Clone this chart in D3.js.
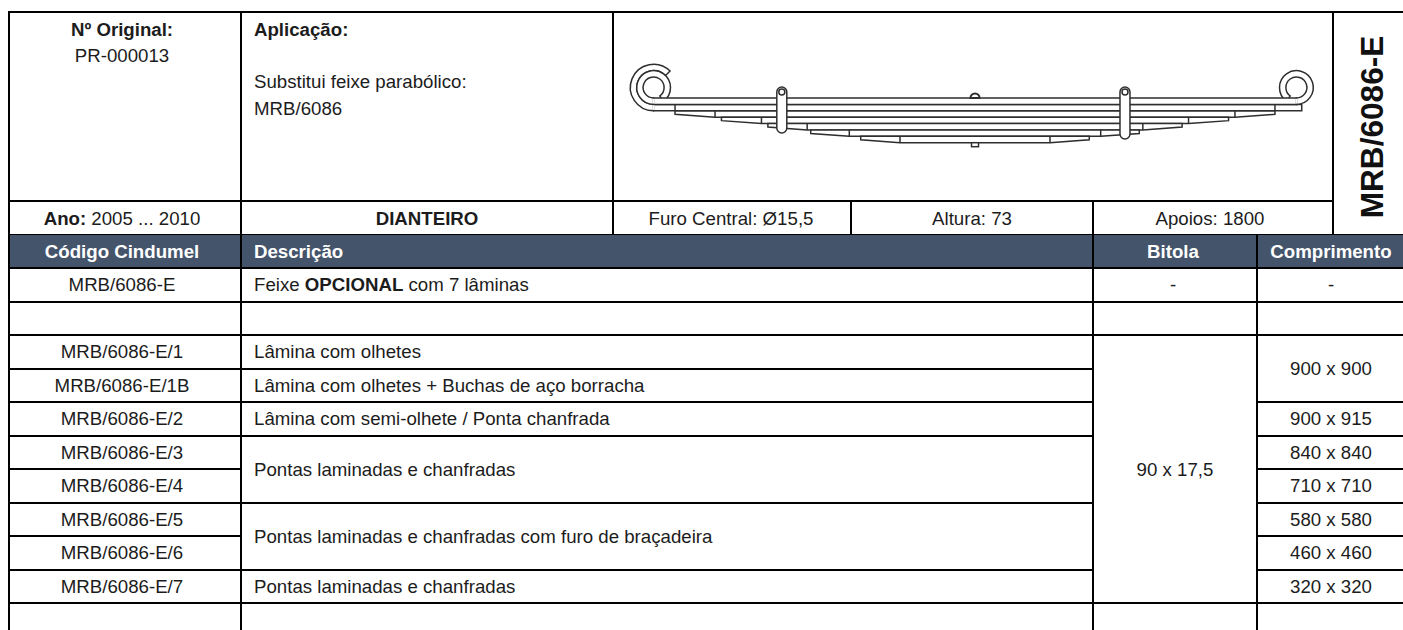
<!DOCTYPE html>
<html>
<head>
<meta charset="utf-8">
<title>MRB/6086-E</title>
<script src="https://cdn.jsdelivr.net/npm/d3@7"></script>
<style>
    html, body { margin: 0; padding: 0; background: #fff; overflow: hidden; }
    text { font-family: "Liberation Sans", Arial, sans-serif; font-size: 18.67px; fill: #1c1c1c; }
    .b { font-weight: bold; }
    .rule { stroke: #000; stroke-width: 2; shape-rendering: crispEdges; }
    .leaf { fill: #fff; stroke: #2e2e2e; stroke-width: 1.5; }
</style>
</head>
<body>
<script>
// Table content
var headers = ["Código Cindumel", "Descrição", "Bitola", "Comprimento"];
var codes = ["MRB/6086-E", "", "MRB/6086-E/1", "MRB/6086-E/1B", "MRB/6086-E/2", "MRB/6086-E/3",
    "MRB/6086-E/4", "MRB/6086-E/5", "MRB/6086-E/6", "MRB/6086-E/7", ""];
// first row of each merged block, how many rows it spans, its text
var descRows = [0, 1, 2, 3, 4, 5, 7, 9, 10];
var descSpans = [1, 1, 1, 1, 1, 2, 2, 1, 1];
var descTexts = ["Feixe |OPCIONAL| com 7 lâminas", "", "Lâmina com olhetes", "Lâmina com olhetes + Buchas de aço borracha",
    "Lâmina com semi-olhete / Ponta chanfrada", "Pontas laminadas e chanfradas",
    "Pontas laminadas e chanfradas com furo de braçadeira", "Pontas laminadas e chanfradas", ""];
var gaugeRows = [0, 1, 2, 10];
var gaugeSpans = [1, 1, 8, 1];
var gaugeTexts = ["-", "", "90 x 17,5", ""];
var lengthRows = [0, 1, 2, 4, 5, 6, 7, 8, 9, 10];
var lengthSpans = [1, 1, 2, 1, 1, 1, 1, 1, 1, 1];
var lengthTexts = ["-", "", "900 x 900", "900 x 915", "840 x 840", "710 x 710", "580 x 580", "460 x 460", "320 x 320", ""];

// Spring drawing values, in mm from the centre bolt
var eyeMm = 900;
var secondLeafRightMm = 915;
var tipMm = [840, 710, 580, 460, 320];
var chamferMm = [728, 598, 470, 352, 210];
var clipMm = [-541, 420];

var width = 1403,
    height = 630;

var svg = d3.select("body")
    .append("svg")
    .attr("width", width)
    .attr("height", height)
    .style("display", "block");

// Column and row edges
var colX = { left: 9, desc: 241, gauge: 1093, len: 1257, right: 1403 };
var topY = 12, infoY = 201, headY = 234, bodyY = 268;
var rowY = d3.scaleLinear().domain([0, 10]).range([bodyY, 603]);

svg.append("rect")
    .attr("x", colX.left).attr("y", headY)
    .attr("width", width - colX.left).attr("height", bodyY - headY)
    .attr("fill", "#44546a");

function hLine(x1, x2, y) {
    return svg.append("line").attr("class", "rule")
        .attr("x1", x1).attr("x2", x2).attr("y1", y).attr("y2", y);
}
function vLine(x, y1, y2) {
    return svg.append("line").attr("class", "rule")
        .attr("x1", x).attr("x2", x).attr("y1", y1).attr("y2", y2);
}

// Top block
hLine(colX.left - 1, width, topY);
hLine(colX.left, 1333, infoY);
hLine(colX.left, width, bodyY);
vLine(613, topY, headY);
vLine(851, infoY, headY);
vLine(1333, topY, headY);

// Columns
vLine(colX.left, topY, height);
vLine(colX.desc, topY, height);
vLine(colX.gauge, infoY, height);
vLine(colX.len, headY, height);
hLine(colX.left, width, headY).style("stroke-width", 1);

// Row rules, respecting the merged cells
d3.range(1, 11).forEach(function(i) {
    hLine(colX.left, colX.desc, rowY(i));
});
function blockRules(rows, spans, x1, x2) {
    rows.forEach(function(r, i) {
        hLine(x1, x2, rowY(r + spans[i]));
    });
}
blockRules(descRows.slice(0, -1), descSpans.slice(0, -1), colX.desc, colX.gauge);
blockRules(gaugeRows.slice(0, -1), gaugeSpans.slice(0, -1), colX.gauge, colX.len);
blockRules(lengthRows.slice(0, -1), lengthSpans.slice(0, -1), colX.len, colX.right);

function label(x, y, anchor, parts, cls) {
    var t = svg.append("text").attr("x", x).attr("y", y).attr("text-anchor", anchor);
    if (cls) t.attr("class", cls);
    parts.forEach(function(p) {
        t.append("tspan").attr("class", p.b ? "b" : null).text(p.t);
    });
    return t;
}

// Info cells
label(122, 36, "middle", [{ t: "Nº Original:", b: true }]);
label(122, 62, "middle", [{ t: "PR-000013" }]);
label(254, 36, "start", [{ t: "Aplicação:", b: true }]);
label(254, 88, "start", [{ t: "Substitui feixe parabólico:" }]);
label(254, 115, "start", [{ t: "MRB/6086" }]);
label(122, 225, "middle", [{ t: "Ano:", b: true }, { t: " 2005 ... 2010" }]);
label(427, 225, "middle", [{ t: "DIANTEIRO", b: true }]);
label(731, 225, "middle", [{ t: "Furo Central: Ø15,5" }]);
label(972, 225, "middle", [{ t: "Altura: 73" }]);
label(1210, 225, "middle", [{ t: "Apoios: 1800" }]);

svg.append("text")
    .attr("class", "b")
    .attr("transform", "translate(1383,127) rotate(-90)")
    .attr("text-anchor", "middle")
    .style("font-size", "31.6px")
    .style("fill", "#111")
    .text("MRB/6086-E");

// Header row
var headerX = [122, 254, 1173, 1331];
var headerAnchor = ["middle", "start", "middle", "middle"];
svg.selectAll(".head")
    .data(headers)
    .enter()
    .append("text")
    .attr("class", "head b")
    .attr("x", function(d, i) { return headerX[i]; })
    .attr("y", 258)
    .attr("text-anchor", function(d, i) { return headerAnchor[i]; })
    .style("fill", "#fff")
    .text(function(d) { return d; });

// Table body
function midY(r, span) {
    return (rowY(r) + rowY(r + span)) / 2 + 6.7;
}
codes.forEach(function(c, i) {
    label(122, midY(i, 1), "middle", [{ t: c }]);
});
descTexts.forEach(function(d, i) {
    var parts = d.split("|").map(function(s, k) { return { t: s, b: k === 1 }; });
    label(254, midY(descRows[i], descSpans[i]), "start", parts);
});
gaugeTexts.forEach(function(d, i) {
    label(i === 0 ? 1173 : 1175, midY(gaugeRows[i], gaugeSpans[i]), "middle", [{ t: d }]);
});
lengthTexts.forEach(function(d, i) {
    label(1331, midY(lengthRows[i], lengthSpans[i]), "middle", [{ t: d }]);
});

// Spring drawing
var spring = svg.append("g");
var sx = d3.scaleLinear().domain([-1000, 1000]).range([975 - 357.1, 975 + 357.1]);
var leafY = d3.scaleLinear().domain([0, 7]).range([98, 142.7]);
var eyeY = 87.5;
var inner = leafY(0) - eyeY,
    r1 = leafY(1) - eyeY,
    r2 = leafY(2) - eyeY;
var arc = d3.arc();
var lineGen = d3.line();

function poly(pts) {
    spring.append("path").attr("class", "leaf").attr("d", lineGen(pts) + "Z");
}
function step(m, y1, y2) {
    spring.append("line").attr("stroke", "#2e2e2e").attr("stroke-width", 1.5)
        .attr("x1", sx(m)).attr("x2", sx(m)).attr("y1", y1).attr("y2", y2);
}

// Lower leaves first, the tapered ends on both sides
tipMm.forEach(function(tip, i) {
    var top = leafY(i + 2),
        bot = leafY(i + 3),
        ch = chamferMm[i];
    var tipBot = top + (bot - top) * 0.55;
    poly([[sx(-tip), top], [sx(tip), top], [sx(tip), tipBot], [sx(ch), bot], [sx(-ch), bot], [sx(-tip), tipBot]]);
    // step where the chamfer starts
    step(-ch, top, bot);
    step(ch, top, bot);
});

// Second leaf, wraps the left eye
spring.append("path").attr("class", "leaf")
    .attr("transform", "translate(" + sx(-eyeMm) + "," + eyeY + ")")
    .attr("d", arc({ innerRadius: r1, outerRadius: r2, startAngle: Math.PI, endAngle: Math.PI * 2.25 }));
poly([[sx(-eyeMm), leafY(1)], [sx(secondLeafRightMm), leafY(1)], [sx(secondLeafRightMm), leafY(2)], [sx(-eyeMm), leafY(2)]]);
step(-tipMm[0], leafY(1), leafY(2));
step(tipMm[0], leafY(1), leafY(2));

// Main leaf with an eye each end
spring.append("path").attr("class", "leaf")
    .attr("transform", "translate(" + sx(-eyeMm) + "," + eyeY + ")")
    .attr("d", arc({ innerRadius: inner, outerRadius: r1, startAngle: Math.PI, endAngle: Math.PI * 2.8 }));
spring.append("path").attr("class", "leaf")
    .attr("transform", "translate(" + sx(eyeMm) + "," + eyeY + ")")
    .attr("d", arc({ innerRadius: inner, outerRadius: r1, startAngle: -Math.PI * 0.8, endAngle: Math.PI }));
poly([[sx(-eyeMm), leafY(0)], [sx(eyeMm), leafY(0)], [sx(eyeMm), leafY(1)], [sx(-eyeMm), leafY(1)]]);
// hide the seams where the eyes meet the leaf
[-eyeMm, eyeMm].forEach(function(m) {
    spring.append("rect").attr("fill", "#fff")
        .attr("x", sx(m) - 1).attr("y", leafY(0) + 0.8).attr("width", 2).attr("height", leafY(1) - leafY(0) - 1.6);
});
spring.append("rect").attr("fill", "#fff")
    .attr("x", sx(-eyeMm) - 1).attr("y", leafY(1) + 0.8).attr("width", 2).attr("height", leafY(2) - leafY(1) - 1.6);

// Clips
clipMm.forEach(function(m, i) {
    var y2 = i === 0 ? 133 : 139;
    spring.append("rect").attr("class", "leaf")
        .attr("x", sx(m) - 5).attr("y", 87).attr("width", 10).attr("height", y2 - 87).attr("rx", 5);
    spring.append("circle").attr("class", "leaf").attr("cx", sx(m)).attr("cy", 92).attr("r", 3);
});

// Centre bolt
spring.append("path").attr("class", "leaf")
    .attr("d", "M" + (sx(0) - 4.5) + "," + leafY(0) + "A4.5,4.5 0 0 1 " + (sx(0) + 4.5) + "," + leafY(0) + "Z")
    .style("stroke-width", 2);
spring.append("rect").attr("class", "leaf")
    .attr("x", sx(0) - 3.5).attr("y", leafY(7)).attr("width", 7).attr("height", 4);
</script>
</body>
</html>
